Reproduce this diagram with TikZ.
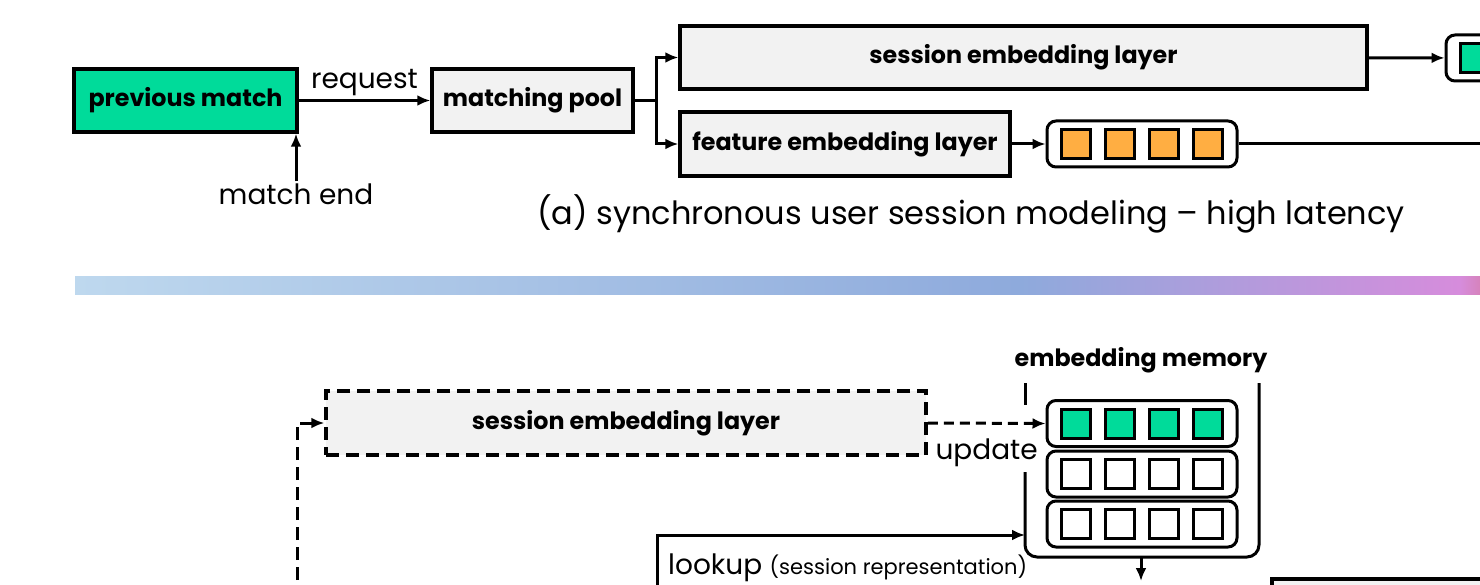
\documentclass[tikz,border=0pt]{standalone}
\usepackage{fontspec}
\setmainfont{Poppins}
\usetikzlibrary{arrows.meta,calc,positioning}

\begin{document}
\begin{tikzpicture}[x=1pt, y=-1pt, >={Latex[length=13pt,width=11pt]},
  box/.style={draw=ink, line width=3.5pt, fill=panel, inner sep=0pt, font=\fontsize{23.8}{28}\selectfont\bfseries},
  buffer/.style={draw=ink, line width=3pt, fill=white, rounded corners=9pt, minimum width=190pt, minimum height=46pt, inner sep=0pt},
  cell/.style={draw=ink, line width=3pt, minimum size=29pt, inner sep=0pt},
  link/.style={draw=ink, line width=3pt},
  lbl/.style={font=\fontsize{28}{33}\selectfont, text=ink, inner sep=2pt}]
  \definecolor{ink}{HTML}{000000}
  \definecolor{panel}{HTML}{F2F2F2}
  \definecolor{mint}{HTML}{00DB9A}
  \definecolor{amber}{HTML}{FFAE42}
  \definecolor{barA}{HTML}{BED8EE}
  \definecolor{barB}{HTML}{8EAADC}
  \definecolor{barC}{HTML}{D68CDC}
  \definecolor{barD}{HTML}{D683BC}
  \useasboundingbox (0,0) rectangle (1480,585);
  \clip (0,0) rectangle (1480,585);

  % (a) synchronous path
  \node[box, fill=mint, minimum width=223pt, minimum height=63pt] (prev) at (185.5,100.5) {previous match};
  \node[box, minimum width=201pt, minimum height=63pt] (pool) at (532.5,100.5) {matching pool};
  \node[box, minimum width=687pt, minimum height=63pt] (sessA) at (1023.5,57.5) {session embedding layer};
  \node[box, minimum width=330pt, minimum height=64pt] (feat) at (845,144) {feature embedding layer};
  \node[buffer] (sessbuf) at (1541,58) {};
  \node[buffer] (featbuf) at (1142,144) {};
  \foreach \i in {0,...,3} {
    \node[cell, fill=mint] (sc\i) at (1475+44*\i,58) {};
    \node[cell, fill=amber] (fc\i) at (1076+44*\i,144) {};
  }
  \node[lbl] (mend) at (296,194) {match end};
  \coordinate (fork) at (656,100.5);
  \coordinate (outA) at (1500,144);

  \draw[link, ->] (prev) -- (pool) node[lbl, midway, above=1pt] {request};
  \draw[link, ->] (mend.north) -- (mend.north |- prev.south);
  \draw[link] (pool.east) -- (fork);
  \draw[link, ->] (fork) |- (sessA.west);
  \draw[link, ->] (fork) |- (feat.west);
  \draw[link, ->] (sessA) -- (sessbuf);
  \draw[link, ->] (feat) -- (featbuf);
  \draw[link] (featbuf) -- (outA);
  \node[font=\fontsize{32}{38}\selectfont, text=ink] (capA) at (971,214) {(a) synchronous user session modeling -- high latency};

  % divider
  \shade[left color=barA, right color=barB] (75,277) rectangle (1020,295);
  \shade[left color=barB, right color=barC] (1020,277) rectangle (1460,295);
  \shade[left color=barC, right color=barD] (1460,277) rectangle (1480,295);

  % (b) embedding memory
  \node[box, dashed, dash pattern=on 13pt off 7pt, minimum width=600pt, minimum height=64pt] (sessB) at (626,423) {session embedding layer};
  \node[font=\fontsize{23.8}{28}\selectfont\bfseries, text=ink] (memlab) at (1141,360) {embedding memory};
  \node[buffer] (row1) at (1142,423.5) {};
  \node[buffer] (row2) at (1142,474) {};
  \node[buffer] (row3) at (1142,524) {};
  \foreach \i in {0,...,3} {
    \node[cell, fill=mint] (ga\i) at (1076+44*\i,423.5) {};
    \node[cell, fill=white] (gb\i) at (1076+44*\i,474) {};
    \node[cell, fill=white] (gc\i) at (1076+44*\i,524) {};
  }
  \draw[link] (1025,383) -- (1025,405);
  \draw[link, rounded corners=12pt] (1025,472) -- (1025,557) -- (1259,557) -- (1259,383);

  \coordinate (loopin) at (297,600);
  \coordinate (lookin) at (657,600);
  \coordinate (lookend) at (1025,535);
  \coordinate (membot) at (1141,558);
  \coordinate (memdown) at (1141,581);
  \draw[link, dashed, dash pattern=on 13pt off 7pt, ->] (loopin) |- (sessB.west);
  \draw[link, dashed, dash pattern=on 10pt off 6pt, ->] (sessB.east) -- (row1.west)
    node[lbl, midway, below=12pt] {update};
  \draw[link, ->] (lookin) |- (lookend);
  \node[lbl, anchor=west] (lookup) at (666,568) {lookup {\fontsize{21}{25}\selectfont (session representation)}};
  \draw[link, ->] (membot) -- (memdown);
  \node[box, anchor=north west, minimum width=400pt, minimum height=80pt] (next) at (1270,577) {};
\end{tikzpicture}
\end{document}
